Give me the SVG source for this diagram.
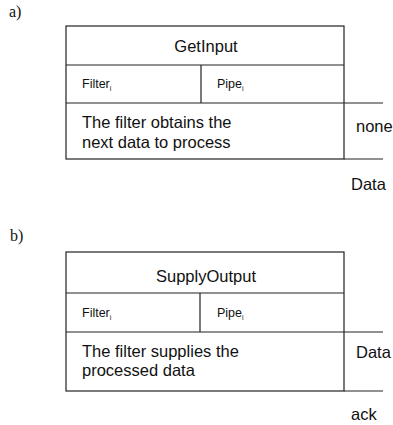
<svg xmlns="http://www.w3.org/2000/svg" width="393" height="425" viewBox="0 0 393 425">
<style>
.ln{stroke:#222;stroke-width:1.2;fill:none}
.t{font-family:"Liberation Sans",Arial,sans-serif;fill:#111}
.big{font-size:16.5px}
.sm{font-size:12.5px}
.sub{font-size:7px}
.lbl{font-family:"Liberation Serif","Times New Roman",serif;font-size:16px;fill:#111}
</style>
<rect width="393" height="425" fill="#fff"/>
<text class="lbl" x="9" y="17">a)</text>
<g id="getinput">
<rect class="ln" x="66" y="26" width="278" height="133"/>
<line class="ln" x1="66" y1="65" x2="344" y2="65"/>
<line class="ln" x1="66" y1="103" x2="344" y2="103"/>
<line class="ln" x1="201" y1="65" x2="201" y2="103"/>
<text class="t big" x="206" y="52" text-anchor="middle">GetInput</text>
<text class="t sm" x="82" y="88">Filter<tspan class="sub" dy="3">i</tspan></text>
<text class="t sm" x="217" y="88">Pipe<tspan class="sub" dy="3">i</tspan></text>
<text class="t big" x="82" y="128">The filter obtains the</text>
<text class="t big" x="82" y="148">next data to process</text>
</g>
<g id="connectors">
<line class="ln" x1="344" y1="103" x2="383" y2="103"/>
<line class="ln" x1="344" y1="159" x2="383" y2="159"/>
<line class="ln" x1="344" y1="332" x2="383" y2="332"/>
<line class="ln" x1="344" y1="391" x2="383" y2="391"/>
</g>
<text class="t big" x="356" y="132">none</text>
<text class="t big" x="351" y="190">Data</text>
<text class="lbl" x="10" y="241">b)</text>
<g id="supplyoutput">
<rect class="ln" x="66" y="252" width="278" height="139"/>
<line class="ln" x1="66" y1="293" x2="344" y2="293" stroke-width="1.6"/>
<line class="ln" x1="66" y1="332" x2="344" y2="332"/>
<line class="ln" x1="200" y1="293" x2="200" y2="332"/>
<text class="t big" x="206" y="282" text-anchor="middle">SupplyOutput</text>
<text class="t sm" x="82" y="317">Filter<tspan class="sub" dy="3">i</tspan></text>
<text class="t sm" x="217" y="317">Pipe<tspan class="sub" dy="3">i</tspan></text>
<text class="t big" x="82" y="357">The filter supplies the</text>
<text class="t big" x="82" y="376">processed data</text>
</g>
<text class="t big" x="356" y="358">Data</text>
<text class="t big" x="351" y="420">ack</text>
</svg>
